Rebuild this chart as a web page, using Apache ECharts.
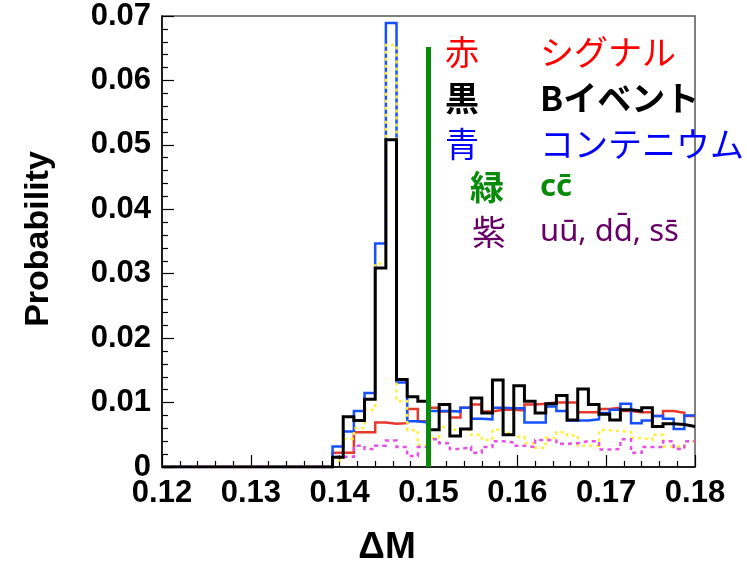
<!DOCTYPE html>
<html>
<head>
<meta charset="utf-8">
<script src="https://cdn.jsdelivr.net/npm/echarts@6/dist/echarts.min.js"></script>
<style>
  html, body { margin: 0; padding: 0; background: #fff; }
  #chart { width: 747px; height: 565px; }
</style>
</head>
<body>
<div id="chart"></div>
<script>
// Histogram binning of ΔM: 50 bins of 0.0012 starting at 0.12
const binStart = 0.12;
const binWidth = 0.0012;

// Per-bin probabilities (bins 0..49)
const signalRed = [
  0,0,0,0,0,0,0,0,0,0,0,0,0,0,0,0,
  0.0022,0.0022,0.0054,0.0054,0.0069,0.0067,0.0068,0.0090,0.0071,0.0092,
  0.0086,0.0077,0.0092,0.0097,0.0086,0.0089,0.0089,0.0088,0.0097,0.0098,
  0.0100,0.0100,0.0100,0.0085,0.0085,0.0090,0.0092,0.0087,0.0085,0.0085,
  0.0079,0.0087,0.0084,0.0079
];
const bEventBlack = [
  0,0,0,0,0,0,0,0,0,0,0,0,0,0,0,0,
  0.0015,0.0078,0.0072,0.0105,0.0309,0.0508,0.0136,0.0109,0.0102,0.0058,
  0.0097,0.0048,0.0059,0.0107,0.0084,0.0135,0.0050,0.0126,0.0102,0.0084,
  0.0098,0.0111,0.0073,0.0121,0.0097,0.0082,0.0073,0.0089,0.0087,0.0092,
  0.0063,0.0067,0.0066,0.0063
];
const continuumBlue = [
  0,0,0,0,0,0,0,0,0,0,0,0,0,0,0,0,
  0.0032,0.0055,0.0087,0.0115,0.0347,0.0689,0.0131,0.0071,0.0069,0.0087,
  0.0087,0.0086,0.0092,0.0075,0.0074,0.0092,0.0091,0.0091,0.0069,0.0069,
  0.0094,0.0087,0.0072,0.0072,0.0074,0.0084,0.0089,0.0098,0.0068,0.0072,
  0.0079,0.0075,0.0059,0.0080
];
const ccbarYellow = [
  0,0,0,0,0,0,0,0,0,0,0,0,0,0,0,0,
  0.0010,0.0044,0.0060,0.0089,0.0316,0.0655,0.0102,0.0057,0.0034,0.0045,
  0.0062,0.0058,0.0057,0.0050,0.0042,0.0058,0.0053,0.0047,0.0037,0.0030,
  0.0045,0.0054,0.0049,0.0033,0.0033,0.0057,0.0056,0.0054,0.0045,0.0042,
  0.0050,0.0032,0.0031,0.0040
];
const udsMagenta = [
  0,0,0,0,0,0,0,0,0,0,0,0,0,0,0,0,
  0.0016,0.0016,0.0033,0.0028,0.0033,0.0041,0.0031,0.0017,0.0031,0.0043,
  0.0037,0.0028,0.0031,0.0022,0.0031,0.0040,0.0038,0.0033,0.0031,0.0042,
  0.0041,0.0036,0.0037,0.0040,0.0040,0.0027,0.0028,0.0043,0.0022,0.0031,
  0.0031,0.0040,0.0028,0.0040
];

// Cut line
const cutX = 0.15;
const cutTop = 0.0652;

// Legend rows: [kanji, description]
const legendKanji = ['赤', '黒', '青', '緑', '紫'];
const legendDesc = ['シグナル', 'Bイベント', 'コンテニウム', 'cc\u0304', 'uu\u0304, dd\u0304, ss\u0304'];

const X_MIN = 0.12, X_MAX = 0.18, X_STEP = 0.01;
const Y_MIN = 0, Y_MAX = 0.07, Y_STEP = 0.01;

// Turn bin contents into step-line points (left edge of each bin + final right edge)
function toSteps(vals) {
  const pts = vals.map((v, i) => [binStart + i * binWidth, v]);
  pts.push([binStart + vals.length * binWidth, vals[vals.length - 1]]);
  return pts;
}

function histSeries(name, vals, color, dash, width) {
  return {
    name: name,
    type: 'line',
    step: 'end',
    data: toSteps(vals),
    symbol: 'none',
    silent: true,
    lineStyle: { color: color, width: width, type: dash || 'solid', cap: 'butt', join: 'miter' }
  };
}

const chart = echarts.init(document.getElementById('chart'), null, { renderer: 'canvas' });

const axisFont = { fontFamily: 'Liberation Sans', fontWeight: 'bold', fontSize: 31, color: '#000' };

const legendColors = ['#ff0000', '#000000', '#0000ff', '#0a8a0a', '#660066'];
const legendBold = [false, true, false, true, false];
const legendY = [52, 98, 144, 187, 232];
const kanjiX = [445, 445, 445, 470, 472];

const graphics = [];
legendKanji.forEach((k, i) => {
  graphics.push({
    type: 'text', x: kanjiX[i], y: legendY[i], silent: true,
    style: {
      text: k, fill: legendColors[i],
      font: (legendBold[i] ? 'bold ' : '') + '34px "Noto Sans CJK JP"',
      align: 'left', verticalAlign: 'middle'
    }
  });
  const latin = i >= 3;
  graphics.push({
    type: 'text', x: 540, y: legendY[i], silent: true,
    style: {
      text: legendDesc[i], fill: legendColors[i],
      font: (legendBold[i] ? 'bold ' : '') + (latin ? '31px "Noto Sans"' : '34px "Noto Sans CJK JP"'),
      align: 'left', verticalAlign: 'middle'
    }
  });
});
graphics.push({
  type: 'text', x: 39, y: 239, rotation: Math.PI / 2, silent: true,
  style: { text: 'Probability', fill: '#000', font: 'bold 34px "Liberation Sans"', align: 'center', verticalAlign: 'middle' }
});
graphics.push({
  type: 'text', x: 387, y: 548, silent: true,
  style: { text: 'ΔM', fill: '#000', font: 'bold 37px "Liberation Sans"', align: 'center', verticalAlign: 'middle' }
});

chart.setOption({
  animation: false,
  backgroundColor: '#fff',
  grid: {
    left: 162, right: 52, top: 16, bottom: 98,
    show: true, borderColor: '#555', borderWidth: 1.5, backgroundColor: 'transparent'
  },
  xAxis: {
    type: 'value', min: X_MIN, max: X_MAX, interval: X_STEP,
    axisLine: { show: true, onZero: false, lineStyle: { color: '#000', width: 1.5 } },
    axisTick: { show: true, inside: true, length: 12, lineStyle: { color: '#000', width: 1.2 } },
    minorTick: { show: true, splitNumber: 5, length: 6, lineStyle: { color: '#000', width: 1.2 } },
    splitLine: { show: false },
    axisLabel: Object.assign({ margin: 11, formatter: v => v.toFixed(2) }, axisFont)
  },
  yAxis: {
    type: 'value', min: Y_MIN, max: Y_MAX, interval: Y_STEP,
    axisLine: { show: true, onZero: false, lineStyle: { color: '#000', width: 1.5 } },
    axisTick: { show: true, inside: true, length: 12, lineStyle: { color: '#000', width: 1.2 } },
    minorTick: { show: true, splitNumber: 5, length: 6, lineStyle: { color: '#000', width: 1.2 } },
    splitLine: { show: false },
    axisLabel: Object.assign({ margin: 11, formatter: v => (v === 0 ? '0' : v.toFixed(2)) }, axisFont)
  },
  series: [
    histSeries('シグナル', signalRed, '#e8372b', 'solid', 2.5),
    histSeries('コンテニウム', continuumBlue, '#1550ff', 'solid', 2.5),
    histSeries('cc', ccbarYellow, '#ffee33', [3, 4], 2.5),
    histSeries('uds', udsMagenta, '#e650e6', [4, 4], 2.5),
    histSeries('Bイベント', bEventBlack, '#000000', 'solid', 3),
    {
      name: 'cut', type: 'line', silent: true, symbol: 'none',
      data: [[cutX, 0], [cutX, cutTop]],
      lineStyle: { color: '#0a8a0a', width: 5, cap: 'butt' }
    }
  ],
  graphic: graphics
});
</script>
</body>
</html>
